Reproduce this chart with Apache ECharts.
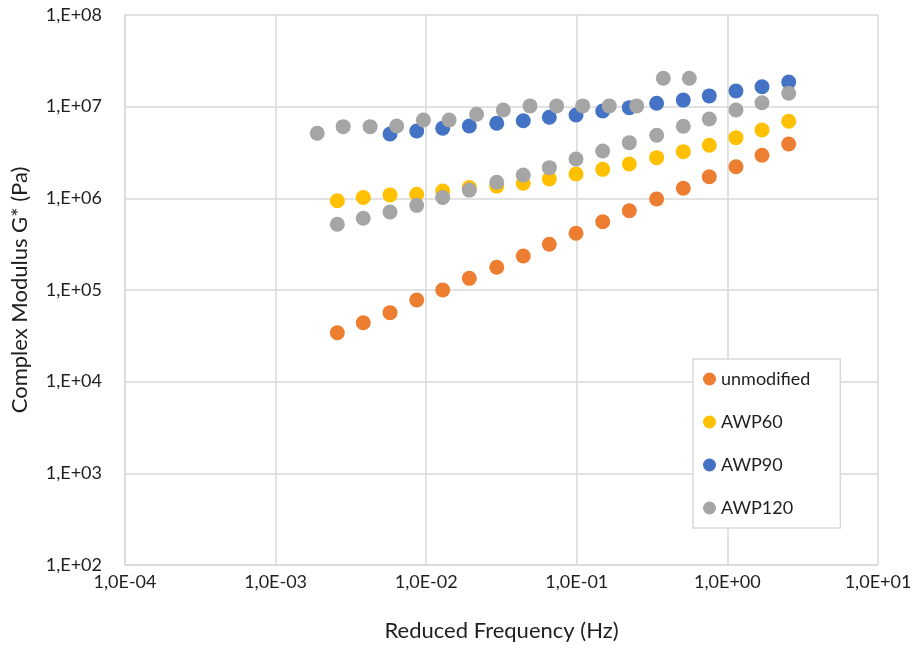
<!DOCTYPE html>
<html>
<head>
<meta charset="utf-8">
<script src="https://cdn.jsdelivr.net/npm/echarts@6/dist/echarts.min.js"></script>
<style>
  html, body { margin: 0; padding: 0; background: #fff; }
  #main { width: 919px; height: 648px; }
</style>
</head>
<body>
<div id="main"></div>
<script>
// frequencies (Hz)
var freqA = [0.00257, 0.00382, 0.00575, 0.00865, 0.01287, 0.01933, 0.0294, 0.0441, 0.0657, 0.0988,
             0.1486, 0.2232, 0.339, 0.5095, 0.758, 1.14, 1.697, 2.553];
var freqB = [0.00575, 0.00865, 0.01287, 0.01933, 0.0294, 0.0441, 0.0657, 0.0988,
             0.1486, 0.2232, 0.339, 0.5095, 0.758, 1.14, 1.697, 2.553];
var freqC = [0.00189, 0.00281, 0.00424, 0.00637, 0.00958, 0.0142, 0.0216, 0.0325, 0.0489, 0.0735,
             0.1094, 0.1643, 0.2498, 0.3753, 0.5585];

// complex modulus G* (Pa)
var unmodified = [3.42e4, 4.40e4, 5.66e4, 7.78e4, 1.0e5, 1.34e5, 1.77e5, 2.35e5, 3.15e5, 4.16e5,
                  5.56e5, 7.33e5, 9.84e5, 1.29e6, 1.72e6, 2.21e6, 2.95e6, 3.92e6];
var awp60 = [9.42e5, 1.02e6, 1.09e6, 1.11e6, 1.20e6, 1.31e6, 1.36e6, 1.46e6, 1.63e6, 1.84e6,
             2.07e6, 2.37e6, 2.78e6, 3.23e6, 3.79e6, 4.59e6, 5.57e6, 6.93e6];
var awp90 = [5.03e6, 5.43e6, 5.81e6, 6.15e6, 6.59e6, 7.03e6, 7.66e6, 8.11e6,
             8.97e6, 9.75e6, 1.09e7, 1.18e7, 1.31e7, 1.48e7, 1.65e7, 1.86e7];
var awp120Hi = [5.12e6, 6.05e6, 6.05e6, 6.15e6, 7.15e6, 7.15e6, 8.26e6, 9.20e6, 1.02e7, 1.02e7,
                1.02e7, 1.02e7, 1.02e7, 2.04e7, 2.04e7];
var awp120Lo = [5.21e5, 6.06e5, 7.10e5, 8.39e5, 1.02e6, 1.23e6, 1.50e6, 1.80e6, 2.16e6, 2.69e6,
                3.28e6, 4.05e6, 4.87e6, 6.11e6, 7.34e6, 9.20e6, 1.105e7, 1.40e7];

var seriesNames = ['unmodified', 'AWP60', 'AWP90', 'AWP120'];
var colors = ['#ED7D31', '#FFC000', '#4472C4', '#A5A5A5'];

var xTickLabels = ['1,0E-04', '1,0E-03', '1,0E-02', '1,0E-01', '1,0E+00', '1,0E+01'];
var yTickLabels = ['1,E+02', '1,E+03', '1,E+04', '1,E+05', '1,E+06', '1,E+07', '1,E+08'];

function pairs(xs, ys) {
  return xs.map(function (x, i) { return [x, ys[i]]; });
}

var font = 'Lato, "Open Sans", sans-serif';
var textColor = '#1f1f1f';
var gridColor = '#D9D9D9';

var myChart = echarts.init(document.getElementById('main'));
var option = {
  animation: false,
  color: colors,
  textStyle: { fontFamily: font },
  grid: { left: 125, right: 41, top: 15, bottom: 83 },
  xAxis: {
    type: 'log',
    logBase: 10,
    min: 1e-4,
    max: 10,
    name: 'Reduced Frequency (Hz)',
    nameLocation: 'middle',
    nameGap: 55,
    nameTextStyle: { color: textColor, fontSize: 22, fontFamily: font },
    axisLine: { lineStyle: { color: gridColor, width: 1.5 } },
    axisTick: { show: false },
    splitLine: { show: true, lineStyle: { color: gridColor, width: 1.5 } },
    axisLabel: {
      color: textColor, fontSize: 18, margin: 8, fontFamily: font,
      formatter: function (v) { return xTickLabels[Math.round(Math.log10(v)) + 4]; }
    }
  },
  yAxis: {
    type: 'log',
    logBase: 10,
    min: 100,
    max: 1e8,
    name: 'Complex Modulus G* (Pa)',
    nameLocation: 'middle',
    nameGap: 94,
    nameTextStyle: { color: textColor, fontSize: 22, fontFamily: font },
    axisLine: { show: true, lineStyle: { color: gridColor, width: 1.5 } },
    axisTick: { show: false },
    splitLine: { show: true, lineStyle: { color: gridColor, width: 1.5 } },
    axisLabel: {
      color: textColor, fontSize: 18, margin: 23, fontFamily: font,
      formatter: function (v) { return yTickLabels[Math.round(Math.log10(v)) - 2]; }
    }
  },
  legend: {
    orient: 'vertical',
    left: 693,
    top: 359,
    padding: [11, 30, 11, 10],
    itemGap: 25,
    itemWidth: 13,
    itemHeight: 13,
    icon: 'circle',
    backgroundColor: '#fff',
    borderColor: gridColor,
    borderWidth: 1.5,
    borderRadius: 0,
    textStyle: { color: textColor, fontSize: 18, lineHeight: 18, fontFamily: font },
    data: seriesNames
  },
  series: [
    { name: seriesNames[0], type: 'scatter', symbolSize: 15, itemStyle: { opacity: 1 },
      data: pairs(freqA, unmodified) },
    { name: seriesNames[1], type: 'scatter', symbolSize: 15, itemStyle: { opacity: 1 },
      data: pairs(freqA, awp60) },
    { name: seriesNames[2], type: 'scatter', symbolSize: 15, itemStyle: { opacity: 1 },
      data: pairs(freqB, awp90) },
    { name: seriesNames[3], type: 'scatter', symbolSize: 15, itemStyle: { opacity: 1 },
      data: pairs(freqC, awp120Hi).concat(pairs(freqA, awp120Lo)) }
  ]
};
myChart.setOption(option);
</script>
</body>
</html>
